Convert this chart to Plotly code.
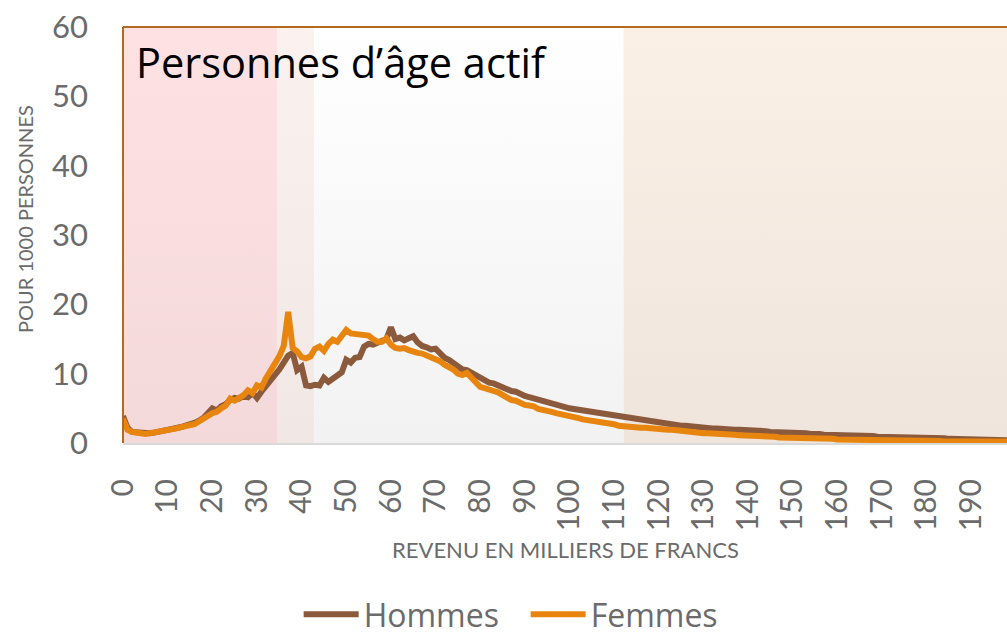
import plotly.graph_objects as go

# ---------------- data ----------------
revenu = list(range(0, 200))  # milliers de francs

hommes = [
    3.9, 2.2, 1.6, 1.5, 1.4, 1.5, 1.4, 1.5, 1.6, 1.7,
    1.9, 2.0, 2.1, 2.3, 2.5, 2.6, 2.9, 3.2, 3.6, 4.3,
    5.0, 4.7, 5.3, 5.6, 6.2, 6.5, 6.4, 6.8, 6.6, 7.2,
    6.5, 7.4, 8.2, 8.7, 9.8, 10.6, 11.6, 12.6, 13.0, 10.5,
    11.0, 8.3, 8.2, 8.4, 8.3, 9.4, 8.8, 9.2, 9.6, 10.2,
    12.0, 11.6, 12.3, 12.4, 13.9, 14.3, 14.2, 14.4, 14.7, 15.0,
    16.7, 15.0, 15.2, 14.8, 15.1, 15.4, 14.5, 14.0, 13.8, 13.5,
    13.6, 12.8, 12.3, 12.0, 11.5, 11.0, 10.6, 10.5, 10.1, 9.9,
    9.4, 9.0, 8.7, 8.6, 8.3, 8.0, 7.8, 7.5, 7.4, 7.0,
    6.8, 6.6, 6.4, 6.3, 6.0, 5.9, 5.7, 5.5, 5.3, 5.1,
    5.0, 4.9, 4.8, 4.6, 4.5, 4.4, 4.2, 4.1, 4.0, 3.9,
    3.8, 3.7, 3.6, 3.5, 3.4, 3.3, 3.3, 3.1, 3.1, 3.0,
    2.9, 2.8, 2.7, 2.7, 2.6, 2.5, 2.5, 2.4, 2.3, 2.3,
    2.2, 2.2, 2.1, 2.1, 2.0, 2.0, 1.9, 1.9, 1.9, 1.9,
    1.8, 1.8, 1.7, 1.7, 1.7, 1.6, 1.6, 1.6, 1.5, 1.6,
    1.5, 1.4, 1.4, 1.4, 1.3, 1.4, 1.3, 1.2, 1.2, 1.2,
    1.2, 1.1, 1.1, 1.1, 1.1, 1.0, 1.0, 1.0, 1.0, 0.9,
    0.9, 0.9, 0.9, 0.9, 0.8, 0.8, 0.8, 0.8, 0.8, 0.7,
    0.7, 0.7, 0.7, 0.7, 0.7, 0.6, 0.6, 0.6, 0.6, 0.6,
    0.6, 0.5, 0.5, 0.5, 0.5, 0.5, 0.5, 0.5, 0.4, 0.4,
]

femmes = [
    3.5, 1.9, 1.6, 1.4, 1.4, 1.3, 1.4, 1.5, 1.5, 1.6,
    1.8, 2.0, 2.1, 2.3, 2.4, 2.6, 2.7, 3.1, 3.4, 3.9,
    4.3, 4.5, 5.0, 5.4, 6.4, 6.1, 6.5, 6.9, 7.6, 7.2,
    8.3, 8.0, 9.3, 10.3, 11.3, 12.5, 14.0, 18.9, 13.7, 13.2,
    12.4, 12.2, 12.5, 13.6, 13.9, 13.3, 14.3, 14.9, 14.6, 15.3,
    16.3, 15.8, 15.7, 15.8, 15.6, 15.5, 15.0, 14.6, 14.6, 15.1,
    14.2, 13.7, 13.6, 13.7, 13.4, 13.1, 13.0, 12.9, 12.6, 12.3,
    12.2, 11.8, 11.3, 11.0, 10.6, 10.0, 9.8, 10.1, 9.4, 8.6,
    8.1, 7.9, 7.8, 7.5, 7.3, 6.9, 6.5, 6.2, 6.1, 5.7,
    5.5, 5.4, 5.3, 4.9, 4.8, 4.8, 4.5, 4.3, 4.2, 4.0,
    3.9, 3.8, 3.6, 3.4, 3.3, 3.4, 3.3, 3.0, 2.9, 2.8,
    2.7, 2.5, 2.4, 2.4, 2.3, 2.3, 2.2, 2.2, 2.1, 2.2,
    2.0, 2.0, 1.9, 1.9, 1.8, 1.8, 1.7, 1.6, 1.5, 1.5,
    1.4, 1.4, 1.4, 1.3, 1.3, 1.2, 1.2, 1.2, 1.1, 1.1,
    1.0, 1.1, 1.0, 1.0, 0.9, 0.9, 0.9, 0.8, 0.8, 0.8,
    0.7, 0.7, 0.7, 0.7, 0.6, 0.7, 0.6, 0.6, 0.6, 0.6,
    0.5, 0.5, 0.5, 0.5, 0.5, 0.5, 0.4, 0.4, 0.4, 0.4,
    0.4, 0.4, 0.4, 0.4, 0.3, 0.3, 0.3, 0.3, 0.3, 0.3,
    0.3, 0.3, 0.3, 0.3, 0.2, 0.2, 0.2, 0.2, 0.2, 0.2,
    0.2, 0.2, 0.2, 0.2, 0.2, 0.2, 0.2, 0.2, 0.2, 0.2,
]

x_ticks = list(range(0, 200, 10))
y_ticks = [0, 10, 20, 30, 40, 50, 60]

# background income bands (start, end) in milliers de francs
band_starts = [0, 34.5, 42.8, 112.1]
band_ends = [34.5, 42.8, 112.1, 200]
band_top_colors = ["#fee2e3", "#fbf1ee", "#ffffff", "#fbf0e6"]
band_bottom_colors = ["#f4d9db", "#f1e7e4", "#f2f2f2", "#efe5dc"]

FONT = "Lato, 'Open Sans', sans-serif"
WIDE = "'Open Sans', Lato, sans-serif"
GRAY = "#6b6b6b"

fig = go.Figure()

for x0, x1, ct, cb in zip(band_starts, band_ends, band_top_colors, band_bottom_colors):
    fig.add_trace(go.Scatter(
        x=[x0, x1, x1, x0, x0], y=[0, 0, 60, 60, 0],
        mode="lines", line=dict(width=0), fill="toself",
        fillgradient=dict(type="vertical", colorscale=[[0, cb], [1, ct]]),
        hoverinfo="skip", showlegend=False,
    ))

fig.add_trace(go.Scatter(
    x=revenu, y=hommes, name="Hommes", mode="lines",
    line=dict(color="#8b5a3c", width=6),
))
fig.add_trace(go.Scatter(
    x=revenu, y=femmes, name="Femmes", mode="lines",
    line=dict(color="#e8850f", width=6),
))

fig.update_layout(
    width=1007, height=642,
    margin=dict(l=123, r=0, t=27, b=199),
    paper_bgcolor="white", plot_bgcolor="white",
    font=dict(family=FONT, color=GRAY),
    xaxis=dict(
        range=[0, 198], tickvals=x_ticks, ticktext=[str(v) for v in x_ticks],
        tickangle=-90, tickfont=dict(size=30, color=GRAY),
        showgrid=False, zeroline=False,
        showline=True, linecolor="#d9d9d9", linewidth=2,
        ticks="", ticklabelstandoff=22,
    ),
    yaxis=dict(
        range=[0, 60], tickvals=y_ticks,
        tickfont=dict(size=31, color=GRAY),
        showgrid=False, zeroline=False, showline=False,
        ticks="", ticklabelstandoff=34,
    ),
    legend=dict(
        orientation="h", xref="container", yref="container",
        x=0.522, xanchor="center", y=0, yanchor="bottom",
        font=dict(size=32, color=GRAY, family=WIDE), itemwidth=55,
        entrywidth=157, entrywidthmode="pixels",
        bgcolor="rgba(0,0,0,0)", borderwidth=0,
    ),
    showlegend=True,
)

# plot-area border (top and left)
fig.add_shape(type="line", xref="paper", yref="paper", x0=0, x1=1, y0=1, y1=1,
              line=dict(color="#b4691f", width=2), layer="above")
fig.add_shape(type="line", xref="paper", yref="paper", x0=0, x1=0, y0=0, y1=1,
              line=dict(color="#b4691f", width=2), layer="above")

fig.add_annotation(
    text="Personnes d’âge actif", xref="paper", yref="paper",
    x=0, y=1, xanchor="left", yanchor="top", xshift=11, yshift=-5,
    showarrow=False, font=dict(size=41.5, color="black", family=WIDE),
)
fig.add_annotation(
    text="POUR 1000 PERSONNES", xref="paper", yref="paper",
    x=0, y=0.5, xanchor="center", yanchor="middle", xshift=-98, yshift=16,
    textangle=-90, showarrow=False, font=dict(size=20, color=GRAY, family=FONT),
)
fig.add_annotation(
    text="REVENU EN MILLIERS DE FRANCS", xref="paper", yref="paper",
    x=0.5, y=0, xanchor="center", yanchor="middle", yshift=-106,
    showarrow=False, font=dict(size=22, color=GRAY, family=FONT),
)

fig.write_html(
    "out.html",
    config={"displayModeBar": False},
    post_script="document.body.style.margin='0';document.body.style.overflow='hidden';",
)
